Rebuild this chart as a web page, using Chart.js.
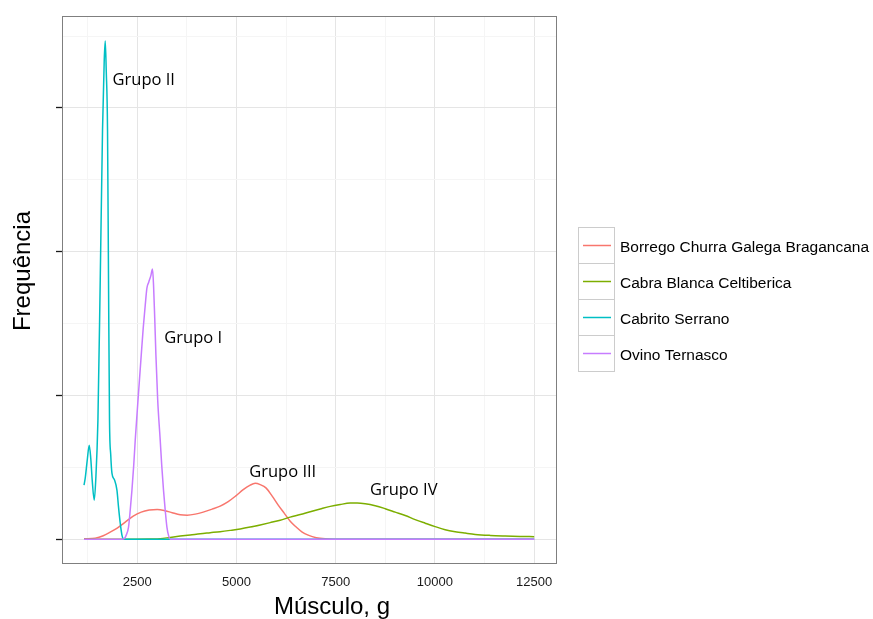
<!DOCTYPE html>
<html>
<head>
<meta charset="utf-8">
<script src="https://cdn.jsdelivr.net/npm/chart.js@4"></script>
<style>
  html, body { margin: 0; padding: 0; background: #ffffff; }
  canvas { display: block; }
</style>
</head>
<body>
<canvas id="chart" width="873" height="619"></canvas>
<script>
// Breeds and their line colours
const seriesNames = [
  'Borrego Churra Galega Bragancana',
  'Cabra Blanca Celtiberica',
  'Cabrito Serrano',
  'Ovino Ternasco'
];
const seriesColors = ['#F8766D', '#7CAE00', '#00BFC4', '#C77CFF'];

// Density estimates of muscle weight (g) per breed
const borregoX = [1160, 1442, 1644, 1820, 1996, 2198, 2399, 2601, 2802, 3004, 3205, 3382, 3583, 3759, 3961, 4162, 4389, 4590, 4792, 4993, 5170, 5346, 5472, 5598, 5749, 5900, 6052, 6203, 6354, 6505, 6656, 6807, 7009, 7235, 7487, 12500];
const borregoY = [0.002, 0.007, 0.024, 0.049, 0.077, 0.118, 0.160, 0.188, 0.202, 0.207, 0.198, 0.184, 0.170, 0.167, 0.174, 0.188, 0.209, 0.230, 0.261, 0.303, 0.344, 0.376, 0.388, 0.379, 0.355, 0.299, 0.237, 0.181, 0.125, 0.084, 0.049, 0.028, 0.010, 0.002, 0, 0];

const cabraX = [1160, 2324, 2827, 3079, 3331, 3583, 3835, 4087, 4339, 4590, 4842, 5094, 5346, 5598, 5850, 6102, 6354, 6606, 6858, 7110, 7362, 7614, 7865, 8042, 8243, 8495, 8747, 8999, 9251, 9502, 9754, 10006, 10258, 10510, 10762, 11014, 11392, 11769, 12147, 12500];
const cabraY = [0, 0, 0.001, 0.003, 0.012, 0.021, 0.029, 0.038, 0.045, 0.052, 0.061, 0.071, 0.084, 0.099, 0.115, 0.132, 0.153, 0.171, 0.191, 0.210, 0.228, 0.241, 0.251, 0.252, 0.247, 0.233, 0.212, 0.188, 0.164, 0.136, 0.111, 0.087, 0.066, 0.052, 0.042, 0.033, 0.026, 0.022, 0.019, 0.017];

const cabritoX = [1160, 1190, 1241, 1291, 1329, 1366, 1417, 1455, 1510, 1568, 1626, 1669, 1694, 1719, 1752, 1777, 1802, 1833, 1863, 1928, 1989, 2029, 2072, 2115, 2147, 2198, 12500];
const cabritoY = [0.376, 0.424, 0.550, 0.654, 0.564, 0.411, 0.271, 0.411, 0.828, 1.802, 2.846, 3.333, 3.466, 3.264, 2.846, 1.802, 0.828, 0.585, 0.459, 0.411, 0.341, 0.223, 0.111, 0.028, 0.003, 0, 0];

const ovinoX = [1160, 2122, 2173, 2223, 2281, 2324, 2367, 2412, 2450, 2525, 2601, 2651, 2702, 2744, 2790, 2840, 2885, 2911, 2941, 2971, 3016, 3079, 3117, 3162, 3205, 3248, 3293, 3331, 12500];
const ovinoY = [0, 0, 0.003, 0.028, 0.084, 0.202, 0.341, 0.515, 0.689, 0.988, 1.280, 1.468, 1.628, 1.747, 1.788, 1.830, 1.879, 1.768, 1.538, 1.280, 0.967, 0.689, 0.515, 0.341, 0.202, 0.084, 0.021, 0, 0];

// Axis breaks
const xMajorTicks = [2500, 5000, 7500, 10000, 12500];
const xMinorTicks = [1250, 3750, 6250, 8750, 11250];
const yMajorTicks = [0, 1, 2, 3];
const yMinorTicks = [0.5, 1.5, 2.5, 3.5];

// Cluster labels placed in data space
const groupLabels = ['Grupo II', 'Grupo I', 'Grupo III', 'Grupo IV'];
const groupX = [2664, 3911, 6165, 9213];
const groupY = [3.194, 1.399, 0.466, 0.341];

const xTitle = 'Músculo, g';
const yTitle = 'Frequência';

const seriesX = [borregoX, cabraX, cabritoX, ovinoX];
const seriesY = [borregoY, cabraY, cabritoY, ovinoY];

const MAJOR_GRID = '#e5e5e5';
const MINOR_GRID = '#f5f5f5';

function toPoints(xs, ys) {
  return xs.map((x, i) => ({ x: x, y: ys[i] }));
}

// Panel border, axis titles, group labels and keyed legend
const decorations = {
  id: 'decorations',
  afterDraw(chart) {
    const { ctx, chartArea: a, scales } = chart;
    ctx.save();

    ctx.strokeStyle = '#7f7f7f';
    ctx.lineWidth = 1;
    ctx.strokeRect(Math.round(a.left) + 0.5, Math.round(a.top) + 0.5,
                   Math.round(a.right - a.left) - 1, Math.round(a.bottom - a.top) - 1);

    ctx.fillStyle = '#000000';
    ctx.font = '16.5px "Open Sans"';
    ctx.textAlign = 'center';
    ctx.textBaseline = 'middle';
    groupLabels.forEach((t, i) => {
      ctx.fillText(t, scales.x.getPixelForValue(groupX[i]), scales.y.getPixelForValue(groupY[i]));
    });

    ctx.font = '24px "Liberation Sans"';
    ctx.textBaseline = 'alphabetic';
    ctx.fillText(xTitle, 332, 614);
    ctx.save();
    ctx.translate(30, 271);
    ctx.rotate(-Math.PI / 2);
    ctx.fillText(yTitle, 0, 0);
    ctx.restore();

    const keyLeft = 578.5, keyTop = 227.5, keySize = 36;
    chart.data.datasets.forEach((ds, i) => {
      const top = keyTop + i * keySize;
      const cy = top + keySize / 2;
      ctx.fillStyle = '#ffffff';
      ctx.fillRect(keyLeft, top, keySize, keySize);
      ctx.strokeStyle = '#cccccc';
      ctx.lineWidth = 1;
      ctx.strokeRect(keyLeft, top, keySize, keySize);
      ctx.strokeStyle = ds.borderColor;
      ctx.lineWidth = 1.5;
      ctx.beginPath();
      ctx.moveTo(keyLeft + 4.5, cy);
      ctx.lineTo(keyLeft + 32.5, cy);
      ctx.stroke();
      ctx.fillStyle = '#000000';
      ctx.font = '15.5px "Liberation Sans"';
      ctx.textAlign = 'left';
      ctx.textBaseline = 'alphabetic';
      ctx.fillText(ds.label, 620, cy + 6);
    });

    ctx.restore();
  }
};

new Chart(document.getElementById('chart'), {
  type: 'line',
  data: {
    datasets: seriesNames.map((name, i) => ({
      label: name,
      data: toPoints(seriesX[i], seriesY[i]),
      borderColor: seriesColors[i],
      backgroundColor: seriesColors[i],
      borderWidth: 1.5,
      pointRadius: 0,
      fill: false,
      cubicInterpolationMode: 'monotone',
      order: seriesNames.length - 1 - i
    }))
  },
  options: {
    responsive: false,
    animation: false,
    events: [],
    layout: { padding: { top: 16, right: 316, left: 0, bottom: 0 } },
    plugins: { legend: { display: false }, tooltip: { enabled: false } },
    scales: {
      x: {
        type: 'linear',
        min: 605,
        max: 13075,
        afterFit(scale) { scale.height = 55; },
        afterBuildTicks(scale) {
          scale.ticks = xMinorTicks.concat(xMajorTicks).sort((p, q) => p - q).map(v => ({ value: v }));
        },
        border: { display: false },
        grid: {
          color: c => (xMajorTicks.includes(c.tick && c.tick.value) ? MAJOR_GRID : MINOR_GRID),
          lineWidth: 1,
          drawTicks: false
        },
        ticks: {
          autoSkip: false,
          maxRotation: 0,
          padding: 11,
          color: '#1a1a1a',
          font: { family: '"Liberation Sans"', size: 13 },
          callback: v => (xMajorTicks.includes(v) ? String(v) : '')
        }
      },
      y: {
        type: 'linear',
        min: -0.173,
        max: 3.64,
        afterFit(scale) { scale.width = 62; },
        afterBuildTicks(scale) {
          scale.ticks = yMajorTicks.concat(yMinorTicks).sort((p, q) => p - q).map(v => ({ value: v }));
        },
        border: { display: false },
        grid: {
          color: c => (yMajorTicks.includes(c.tick && c.tick.value) ? MAJOR_GRID : MINOR_GRID),
          tickColor: c => (yMajorTicks.includes(c.tick && c.tick.value) ? '#1a1a1a' : 'rgba(0,0,0,0)'),
          tickLength: 6,
          tickWidth: 1.3,
          lineWidth: 1
        },
        ticks: { padding: 0, callback: () => '' }
      }
    }
  },
  plugins: [decorations]
});
</script>
</body>
</html>
